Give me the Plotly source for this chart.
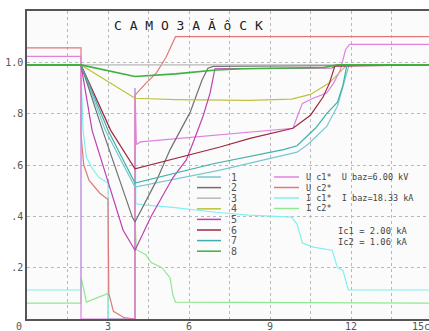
import plotly.graph_objects as go

# ---------------- data ----------------
t1 = [0, 2, 2.9, 4, 7.15, 10.0, 10.4, 11.1, 11.5, 11.75, 11.93, 15]
v1 = [0.99, 0.99, 0.735, 0.514, 0.58, 0.65, 0.68, 0.75, 0.83, 0.92, 0.99, 0.99]

t2 = [0, 2, 2.8, 3.9, 4, 4.8, 5.3, 5.67, 6.04, 6.48, 6.7, 6.9, 11.5, 15]
v2 = [0.99, 0.99, 0.735, 0.397, 0.378, 0.54, 0.66, 0.735, 0.805, 0.93, 0.977, 0.984, 0.986, 0.99]

t3 = [0, 15]
v3 = [0.99, 0.99]

t4 = [0, 2, 4, 5.5, 8.2, 9.8, 10.5, 11.2, 11.85, 15]
v4 = [0.99, 0.99, 0.86, 0.855, 0.852, 0.857, 0.875, 0.92, 0.99, 0.99]

t5 = [0, 2, 2.41, 3.56, 4, 4.6, 5.4, 5.9, 6.2, 6.52, 6.78, 6.96, 11.3, 11.5, 15]
v5 = [0.99, 0.99, 0.735, 0.346, 0.268, 0.4, 0.55, 0.62, 0.7, 0.79, 0.88, 0.975, 0.978, 0.99, 0.99]

t6 = [0, 2, 3.1, 4, 7.15, 8.26, 9.85, 10.5, 10.96, 11.2, 11.4, 15]
v6 = [0.99, 0.99, 0.735, 0.585, 0.67, 0.704, 0.743, 0.794, 0.864, 0.918, 0.985, 0.99]

t7 = [0, 2, 3.0, 4, 6.9, 9.5, 10.0, 10.7, 11.1, 11.5, 11.7, 11.85, 15]
v7 = [0.99, 0.99, 0.735, 0.53, 0.605, 0.66, 0.675, 0.745, 0.8, 0.845, 0.91, 0.99, 0.99]

t8 = [0, 2, 4, 5.5, 7.0, 8.0, 11.0, 11.5, 15]
v8 = [0.99, 0.99, 0.945, 0.955, 0.97, 0.975, 0.98, 0.99, 0.99]

t_uc1 = [0, 2, 2, 4, 4, 4.05, 4.2, 8.26, 9.85, 10.0, 10.2, 10.6, 11.1, 11.35, 11.6, 11.8, 11.95, 15]
v_uc1 = [1.023, 1.023, 0, 0, 0.9, 0.68, 0.69, 0.728, 0.743, 0.786, 0.84, 0.86, 0.88, 0.918, 0.969, 1.05, 1.07, 1.07]

t_uc2 = [0, 2, 2, 2.1, 2.3, 2.7, 3.0, 3.03, 3.2, 3.6, 4, 4, 4.4, 4.8, 5.15, 5.4, 5.5, 15]
v_uc2 = [1.056, 1.056, 0.72, 0.6, 0.54, 0.49, 0.465, 0.1, 0.03, 0.005, 0, 0.872, 0.918, 0.96, 1.02, 1.074, 1.10, 1.10]

t_ic1 = [0, 2, 2, 2.08, 2.2, 2.4, 2.65, 3.0, 3.0, 4, 4, 4.03, 4.3, 5.4, 7.0, 8.2, 9.8, 10.0, 10.2, 10.6, 11.3, 11.5, 11.7, 11.9, 15]
v_ic1 = [0.113, 0.113, 0.95, 0.73, 0.63, 0.59, 0.553, 0.53, 0, 0, 0.9, 0.45, 0.445, 0.435, 0.416, 0.405, 0.397, 0.37, 0.296, 0.28, 0.268, 0.2, 0.19, 0.113, 0.113]

t_ic2 = [0, 2, 2, 2.2, 3.0, 3.0, 4, 4, 4.05, 4.4, 4.6, 5.0, 5.3, 5.4, 5.5, 15]
v_ic2 = [0.062, 0.062, 0.165, 0.066, 0.1, 0, 0, 0.39, 0.27, 0.25, 0.22, 0.2, 0.16, 0.094, 0.066, 0.062]

motor_names = ["1", "2", "3", "4", "5", "6", "7", "8"]
motor_colors = ["#78c8d0", "#707070", "#b8b8b8", "#c0c040", "#c040b0", "#a02840", "#40b0a8", "#40b040"]
motor_t = [t1, t2, t3, t4, t5, t6, t7, t8]
motor_v = [v1, v2, v3, v4, v5, v6, v7, v8]

sys_names = ["U c1*  U baz=6.00 kV", "U c2*", "I c1*  I baz=18.33 kA", "I c2*"]
sys_colors = ["#e080e0", "#e07878", "#80f0f0", "#90e890"]
sys_t = [t_uc1, t_uc2, t_ic1, t_ic2]
sys_v = [v_uc1, v_uc2, v_ic1, v_ic2]

info_lines = ["Ic1 = 2.00 kA", "Ic2 = 1.06 kA"]
title_text = "C A M O 3 A Ă ô C K"
x_ticks = [3, 6, 9, 12]
y_ticks = [0.2, 0.4, 0.6, 0.8, 1.0]
y_tick_text = [".2", ".4", ".6", ".8", "1.0"]

# ---------------- figure ----------------
W, H = 429, 331
L, R, T, B = 27, 0, 11, 12
pw, ph = W - L - R, H - T - B

def px(x):
    return (x - L) / pw

def py(y):
    return (H - B - y) / ph

fig = go.Figure()
# draw currents first, then voltages on top
for k in [3, 2, 1, 0]:
    fig.add_trace(go.Scatter(x=sys_t[k], y=sys_v[k], mode="lines", line=dict(color=sys_colors[k], width=1.2),
                             showlegend=False, hoverinfo="skip"))
for tt, vv, c, n in zip(motor_t, motor_v, motor_colors, motor_names):
    fig.add_trace(go.Scatter(x=tt, y=vv, mode="lines",
                             line=dict(color=c, width=1.6 if n == "8" else 1.2),
                             showlegend=False, hoverinfo="skip"))

mono = "DejaVu Sans Mono"
shapes = []
annotations = []

# legend 1 (motors)
for i, (n, c) in enumerate(zip(motor_names, motor_colors)):
    yy = py(177 + i * 10.6)
    shapes.append(dict(type="line", xref="paper", yref="paper", x0=px(197), x1=px(221), y0=yy, y1=yy,
                       line=dict(color=c, width=1.5)))
    annotations.append(dict(xref="paper", yref="paper", x=px(229), y=yy, text=n, showarrow=False,
                            xanchor="left", yanchor="middle", font=dict(family=mono, size=10, color="#555")))
# legend 2 (system)
for i, (n, c) in enumerate(zip(sys_names, sys_colors)):
    yy = py(177 + i * 10.5)
    shapes.append(dict(type="line", xref="paper", yref="paper", x0=px(274), x1=px(299), y0=yy, y1=yy,
                       line=dict(color=c, width=1.5)))
    annotations.append(dict(xref="paper", yref="paper", x=px(304), y=yy, text=n.replace(" ", "&nbsp;"),
                            showarrow=False, xanchor="left", yanchor="middle",
                            font=dict(family=mono, size=8.5, color="#444")))
for i, s in enumerate(info_lines):
    annotations.append(dict(xref="paper", yref="paper", x=px(336), y=py(231 + i * 10.5),
                            text=s.replace(" ", "&nbsp;"), showarrow=False, xanchor="left", yanchor="middle",
                            font=dict(family=mono, size=8.8, color="#444")))
# title
annotations.append(dict(xref="paper", yref="paper", x=px(188), y=py(26), text=title_text.replace(" ", "&nbsp;"),
                        showarrow=False, xanchor="center", yanchor="middle",
                        font=dict(family=mono, size=13, color="#222")))
# x tick labels (drawn as text just under the axis)
for v in x_ticks:
    annotations.append(dict(xref="x", yref="paper", x=v, y=py(326), text=str(v), showarrow=False,
                            xanchor="center", yanchor="middle", font=dict(family=mono, size=10, color="#555")))
# origin and end labels
annotations.append(dict(xref="paper", yref="paper", x=px(19), y=py(326), text="0", showarrow=False,
                        xanchor="center", yanchor="middle", font=dict(family=mono, size=10, color="#555")))
annotations.append(dict(xref="paper", yref="paper", x=px(421), y=py(326), text="15c", showarrow=False,
                        xanchor="center", yanchor="middle", font=dict(family=mono, size=10, color="#555")))

fig.update_layout(
    width=W, height=H,
    margin=dict(l=L, r=R, t=T, b=B, pad=0, autoexpand=False),
    paper_bgcolor="white", plot_bgcolor="#fbfbfb",
    showlegend=False,
    shapes=shapes, annotations=annotations,
    xaxis=dict(range=[0, pw / 27.0], tickvals=x_ticks, showticklabels=False,
               showgrid=True, gridcolor="#b8b8b8", griddash="dot", gridwidth=1,
               minor=dict(dtick=1.5, tick0=0, showgrid=True, gridcolor="#b8b8b8", griddash="dot", gridwidth=1),
               showline=True, linecolor="#555", linewidth=1.5, mirror=True,
               zeroline=False, ticks="", automargin=False),
    yaxis=dict(range=[0, 1.2], tickvals=y_ticks, ticktext=y_tick_text,
               showgrid=True, gridcolor="#b8b8b8", griddash="dot", gridwidth=1,
               showline=True, linecolor="#555", linewidth=1.5, mirror=True,
               zeroline=False, ticks="", automargin=False,
               tickfont=dict(family=mono, size=10, color="#555")),
)

fig.write_html("out.html", config={"displayModeBar": False},
               post_script="document.body.style.margin='0';document.body.style.overflow='hidden';")
